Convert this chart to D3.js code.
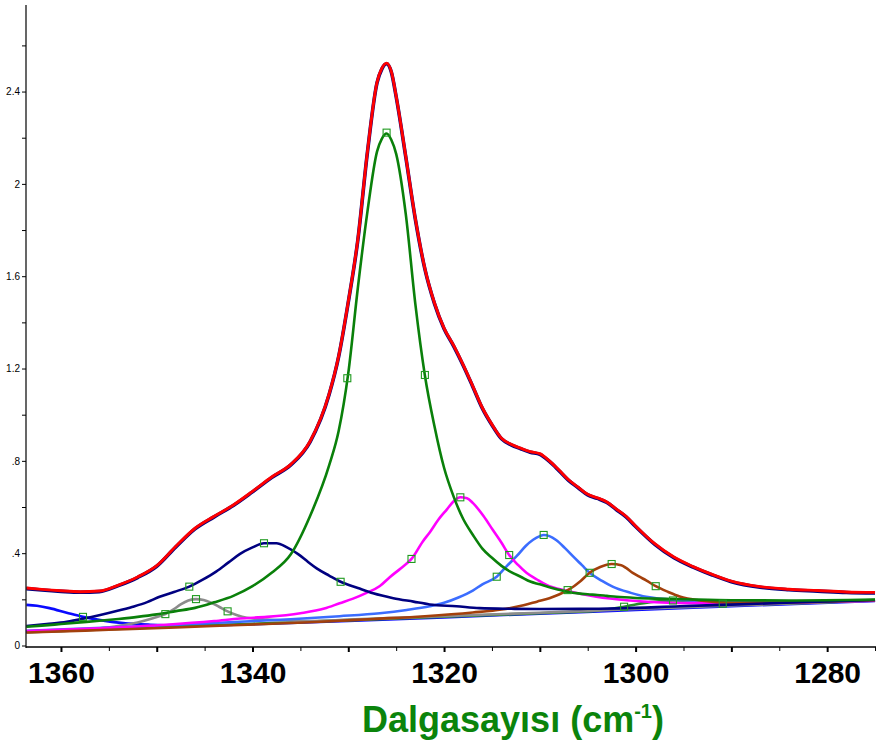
<!DOCTYPE html>
<html><head><meta charset="utf-8">
<script src="https://cdn.jsdelivr.net/npm/d3@7"></script>
<style>body{margin:0;background:#fff;} svg{display:block;}</style>
</head><body>
<svg id="c" width="876" height="744"></svg>
<script>
// ---- data (wavenumber cm-1, absorbance) ----
const yTickValues = [0,0.2,0.4,0.6,0.8,1.0,1.2,1.4,1.6,1.8,2.0,2.2,2.4,2.6];
const yTickLabels = ["0","",".4","",".8","","1.2","","1.6","","2","","2.4",""];
const xTickValues = [1360,1355,1350,1345,1340,1335,1330,1325,1320,1315,1310,1305,1300,1295,1290,1285,1280,1275];
const xTickLabels = ["1360","","","","1340","","","","1320","","","","1300","","","","1280",""];

const fitTotal = [[1363.6,0.249],[1362,0.243],[1360,0.237],[1358,0.233],[1356,0.236],[1354,0.262],[1352,0.297],[1350,0.346],[1348,0.43],[1346,0.508],[1344,0.56],[1342,0.609],[1340,0.668],[1338,0.73],[1336,0.785],[1334,0.884],[1332,1.09],[1331,1.255],[1330,1.49],[1329,1.76],[1328,2.14],[1327,2.44],[1326.5,2.50],[1326,2.523],[1325.5,2.486],[1325,2.38],[1324,2.12],[1323,1.85],[1322,1.633],[1321,1.484],[1320,1.375],[1319,1.30],[1318,1.216],[1317,1.124],[1316,1.03],[1315,0.958],[1314,0.898],[1313,0.872],[1312,0.855],[1311,0.84],[1310,0.831],[1309,0.80],[1308,0.76],[1307,0.718],[1306,0.686],[1305,0.655],[1304,0.64],[1303,0.622],[1302,0.591],[1301,0.56],[1300,0.518],[1298,0.441],[1296,0.383],[1294,0.342],[1292,0.308],[1290,0.279],[1287,0.255],[1284,0.244],[1281,0.238],[1278,0.232],[1275,0.230]];

const peak1326 = [[1363.6,0.081],[1362,0.086],[1360,0.093],[1358,0.100],[1356,0.107],[1354,0.115],[1352,0.124],[1350,0.135],[1348,0.149],[1346,0.163],[1344,0.187],[1342,0.215],[1340,0.257],[1338,0.315],[1336,0.395],[1334,0.56],[1332,0.78],[1331,0.93],[1330,1.18],[1329,1.55],[1328,1.88],[1327,2.14],[1326.5,2.195],[1326,2.218],[1325.5,2.19],[1325,2.13],[1324,1.87],[1323,1.48],[1322,1.17],[1321,0.95],[1320,0.77],[1319,0.645],[1318,0.548],[1317,0.48],[1316,0.42],[1315,0.38],[1314,0.345],[1313,0.318],[1312,0.298],[1311,0.277],[1310,0.265],[1309,0.252],[1308,0.242],[1307,0.232],[1306,0.226],[1305,0.222],[1304,0.219],[1303,0.215],[1302,0.211],[1300,0.206],[1298,0.203],[1296,0.201],[1294,0.199],[1290,0.196],[1284,0.195],[1275,0.199]];

const peak1339 = [[1363.6,0.084],[1361.5,0.093],[1359.4,0.103],[1357.7,0.116],[1355.9,0.132],[1354.2,0.149],[1352.5,0.168],[1351,0.188],[1349.7,0.211],[1348.2,0.232],[1346.6,0.255],[1345.2,0.285],[1343.8,0.320],[1342.5,0.360],[1341.3,0.397],[1340,0.425],[1338.8,0.443],[1337.5,0.443],[1336.4,0.425],[1335.2,0.395],[1334.2,0.362],[1333.3,0.334],[1332,0.303],[1330.8,0.276],[1329,0.249],[1327.4,0.226],[1325.3,0.205],[1323.2,0.190],[1321.5,0.178],[1318.7,0.170],[1316.3,0.162],[1313,0.159],[1310,0.158],[1305,0.159],[1301.7,0.161],[1295.4,0.170],[1290,0.177],[1285,0.184],[1280,0.191],[1275,0.197]];

const peak1346 = [[1363.6,0.058],[1358,0.066],[1355.9,0.075],[1353.5,0.088],[1352,0.100],[1350.4,0.118],[1349.1,0.136],[1348.2,0.158],[1347.5,0.178],[1346.7,0.195],[1345.9,0.201],[1345.1,0.197],[1344.4,0.187],[1343.5,0.168],[1342.6,0.148],[1341.6,0.131],[1340.6,0.120],[1338.5,0.112],[1336,0.108],[1334,0.106],[1330,0.112],[1320,0.127],[1310,0.142],[1300,0.158],[1290,0.173],[1275,0.195]];

const peak1363 = [[1363.6,0.176],[1362.5,0.172],[1361.2,0.162],[1359.4,0.142],[1357.7,0.124],[1355.9,0.110],[1353.5,0.097],[1350.7,0.090],[1348,0.087],[1344,0.088],[1340,0.092],[1330,0.106],[1320,0.122],[1310,0.138],[1300,0.154],[1290,0.170],[1275,0.193]];

const peak1318 = [[1363.6,0.063],[1356,0.075],[1349,0.090],[1344,0.106],[1341.3,0.117],[1338.5,0.124],[1335,0.140],[1332.5,0.160],[1330.9,0.183],[1329.5,0.203],[1328.1,0.228],[1326.7,0.258],[1325.7,0.295],[1324.5,0.335],[1323.4,0.375],[1322.2,0.452],[1321.5,0.490],[1320.6,0.545],[1319.7,0.590],[1319,0.625],[1318.3,0.642],[1317.6,0.638],[1317,0.618],[1315.9,0.562],[1314.9,0.500],[1314,0.445],[1313.2,0.392],[1312.3,0.350],[1311.4,0.315],[1310.3,0.286],[1309.3,0.262],[1307.2,0.237],[1304.1,0.211],[1300.6,0.195],[1295.4,0.184],[1290,0.183],[1284,0.186],[1275,0.194]];

const peak1310 = [[1363.6,0.064],[1355,0.078],[1348,0.090],[1341.3,0.103],[1336,0.114],[1330.9,0.127],[1326.7,0.140],[1323.9,0.154],[1321.5,0.170],[1320,0.185],[1318.5,0.208],[1317,0.238],[1316,0.265],[1314.5,0.298],[1313.5,0.342],[1312.4,0.388],[1311.5,0.430],[1310.7,0.458],[1310,0.474],[1309.6,0.479],[1309,0.474],[1308.3,0.457],[1307.4,0.423],[1306.5,0.385],[1305.6,0.348],[1304.8,0.315],[1303.5,0.280],[1302.4,0.255],[1300.5,0.228],[1298.9,0.211],[1295.4,0.197],[1290,0.190],[1284,0.190],[1275,0.194]];

const peak1302 = [[1363.6,0.056],[1355,0.068],[1348,0.078],[1341.3,0.089],[1334,0.101],[1327.4,0.115],[1322,0.127],[1317,0.143],[1314,0.156],[1311.7,0.174],[1310.3,0.190],[1309,0.205],[1308,0.221],[1307.1,0.240],[1306.4,0.258],[1305.8,0.277],[1304.8,0.315],[1303.7,0.340],[1302.5,0.353],[1301.5,0.348],[1301,0.336],[1300.3,0.315],[1299.6,0.298],[1298.9,0.282],[1297.9,0.257],[1296.6,0.232],[1295.4,0.212],[1293.3,0.195],[1289.8,0.185],[1285,0.186],[1280,0.19],[1275,0.196]];

const peak1296 = [[1363.6,0.058],[1340,0.094],[1320,0.125],[1310,0.140],[1306,0.146],[1304,0.151],[1302.5,0.159],[1301.2,0.168],[1300,0.178],[1298.5,0.188],[1297.2,0.193],[1296.1,0.195],[1295,0.194],[1293.5,0.190],[1292,0.185],[1290.9,0.181],[1289,0.178],[1285,0.181],[1280,0.188],[1275,0.195]];

// peak centre / half-height markers
const markers1326 = [[1326.0,2.222],[1330.1,1.158],[1322.0,1.172]];
const markers1339 = [[1338.8,0.443],[1346.6,0.255],[1330.8,0.276]];
const markers1346 = [[1345.9,0.201],[1349.1,0.136],[1342.6,0.148]];
const markers1363 = [[1357.7,0.124]];
const markers1318 = [[1318.3,0.642],[1323.4,0.375],[1313.2,0.392]];
const markers1310 = [[1309.6,0.479],[1314.5,0.298],[1304.8,0.315]];
const markers1302 = [[1302.5,0.353],[1307.1,0.240],[1297.9,0.257]];
const markers1296 = [[1301.2,0.168],[1296.1,0.195],[1290.9,0.181]];

// ---- drawing ----
const svg = d3.select("#c");
const x = d3.scaleLinear().domain([1363.65, 1274.9]).range([26, 876]);
const y = d3.scaleLinear().domain([0, 2.775]).range([645.5, 5]);

svg.append("defs").append("clipPath").attr("id","plot")
  .append("rect").attr("x",26).attr("y",0).attr("width",850).attr("height",648);

const line = d3.line().x(d => x(d[0])).y(d => y(d[1])).curve(d3.curveMonotoneX);
const g = svg.append("g").attr("clip-path","url(#plot)");

const comps = [
  {d: peak1363, c: "#0a0aff"},
  {d: peak1296, c: "#2a8c2a"},
  {d: peak1346, c: "#8c8c8c"},
  {d: peak1310, c: "#3b6dff"},
  {d: peak1318, c: "#ff00ff"},
  {d: peak1302, c: "#a3400c"},
  {d: peak1339, c: "#000080"},
  {d: peak1326, c: "#0a800a"}
];
comps.forEach(s => {
  g.append("path").attr("d", line(s.d)).attr("fill","none")
    .attr("stroke", s.c).attr("stroke-width", 2.6).attr("stroke-linejoin","round");
});
// observed spectrum (navy) under the fitted total (red)
g.append("path").attr("d", line(fitTotal)).attr("fill","none")
  .attr("stroke","#000080").attr("stroke-width",3.6).attr("transform","translate(0,0.6)");
g.append("path").attr("d", line(fitTotal)).attr("fill","none")
  .attr("stroke","#ff0000").attr("stroke-width",2.9).attr("stroke-linejoin","round");

const allMarkers = [].concat(markers1326, markers1339, markers1346, markers1363,
  markers1318, markers1310, markers1302, markers1296);
g.selectAll("rect.mk").data(allMarkers).join("rect").attr("class","mk")
  .attr("x", d => x(d[0]) - 3.5).attr("y", d => y(d[1]) - 3.5)
  .attr("width", 7).attr("height", 7)
  .attr("fill","none").attr("stroke","#1f9a1f").attr("stroke-width",1.1);

// y axis
const yAxis = d3.axisLeft(y).tickValues(yTickValues).tickSize(4).tickPadding(2)
  .tickFormat((d,i) => yTickLabels[i]);
const gy = svg.append("g").attr("transform","translate(26,0)").call(yAxis);
gy.select(".domain").remove();
gy.selectAll("text").attr("font-family","'Liberation Sans', Arial, sans-serif")
  .attr("font-size",10).attr("fill","#000");
gy.selectAll(".tick line").attr("stroke","#000");
svg.append("line").attr("x1",26).attr("x2",26).attr("y1",5).attr("y2",648)
  .attr("stroke","#000").attr("stroke-width",1.2);

// x axis
const xAxis = d3.axisBottom(x).tickValues(xTickValues).tickSize(4)
  .tickFormat((d,i) => xTickLabels[i]);
const gx = svg.append("g").attr("transform","translate(0,647)").call(xAxis);
gx.select(".domain").remove();
gx.selectAll(".tick line").attr("stroke","#000")
  .attr("y2", d => d % 10 === 0 ? 5 : 4)
  .attr("stroke-width", d => d % 10 === 0 ? 2 : 1);
gx.selectAll("text").attr("y",36).attr("dy",0)
  .attr("font-family","'Liberation Sans', Arial, Helvetica, sans-serif")
  .attr("font-weight","bold").attr("font-size",30).attr("fill","#000");
svg.append("line").attr("x1",26).attr("x2",876).attr("y1",647).attr("y2",647)
  .attr("stroke","#000").attr("stroke-width",1.5);

// x axis title
const t = svg.append("text").attr("x",513).attr("y",732).attr("text-anchor","middle")
  .attr("font-family","'Liberation Sans', Arial, Helvetica, sans-serif")
  .attr("font-weight","bold").attr("font-size",36).attr("fill","#0b840b");
t.append("tspan").text("Dalgasayısı (cm");
t.append("tspan").attr("font-size",20).attr("dy",-14).text("-1");
t.append("tspan").attr("dy",14).text(")");
</script>
</body></html>
